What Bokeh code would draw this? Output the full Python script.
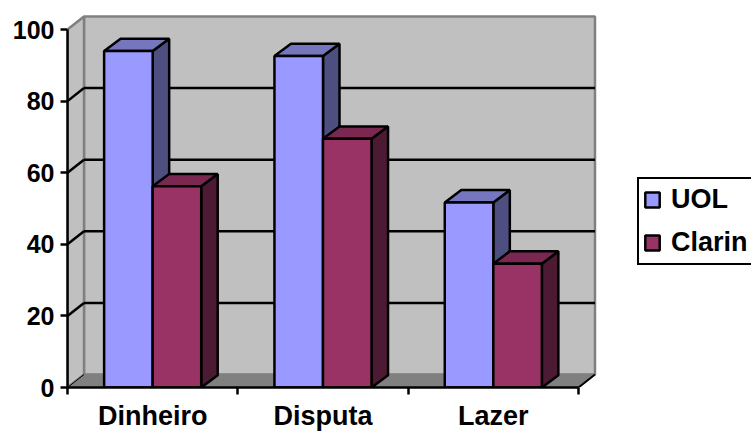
from bokeh.plotting import figure
from bokeh.models import (Range1d, LinearAxis, FixedTicker, Legend, LegendItem,
                          ColumnDataSource)
from bokeh.embed import file_html
from bokeh.resources import INLINE

categories = ["Dinheiro", "Disputa", "Lazer"]
uol = [94, 92.6, 51.7]
clarin = [56.2, 69.5, 34.6]
y_ticks = [0, 20, 40, 60, 80, 100]

FONT = "Liberation Sans"
W, H = 751, 431
L, T, FRAME_H = 67, 0, 387
FRAME_W = W - L
PX_PER_CAT = 170.33
PX_PER_VAL = 3.58
DX = 16.5 / PX_PER_CAT
DY = 13 / PX_PER_VAL
BAR_DY = 12.3 / PX_PER_VAL
BAR = 0.285
N = len(categories)
LW = 2.5

p = figure(width=W, height=H, frame_width=FRAME_W, frame_height=FRAME_H,
           output_backend="svg", toolbar_location=None,
           x_range=Range1d(0, FRAME_W / PX_PER_CAT),
           y_range=Range1d(0, FRAME_H / PX_PER_VAL),
           x_axis_type=None, y_axis_type=None,
           min_border_left=L, min_border_right=0, min_border_top=T, min_border_bottom=0)
p.outline_line_color = None
p.grid.visible = False
p.background_fill_color = "white"

top_val = max(y_ticks)
WALL = "#C0C0C0"
EDGE = "#808080"

# back wall, side wall, floor
p.quad(left=[DX], right=[N + DX], bottom=[DY], top=[top_val + DY],
       fill_color=WALL, line_color=EDGE, line_width=2.5)
p.patch([0, DX, DX, 0], [0, DY, top_val + DY, top_val],
        fill_color=WALL, line_color=EDGE, line_width=2.5)
p.patch([0, N, N + DX, DX], [0, 0, DY, DY],
        fill_color=EDGE, line_color=EDGE, line_width=1.5)

# gridlines: back wall + diagonal along the side wall
inner = [t for t in y_ticks if 0 < t < top_val]
p.multi_line([[DX, N + DX] for _ in inner], [[t + DY, t + DY] for t in inner],
             line_color="black", line_width=LW)
p.multi_line([[0, DX] for _ in inner], [[t, t + DY] for t in inner],
             line_color="black", line_width=LW)
p.line([N, N + DX], [0, DY], line_color="black", line_width=2)
p.line([0, DX], [0, DY], line_color="black", line_width=1)


def bars(values, offset, front, top, side):
    lefts = [i + 0.5 + offset for i in range(N)]
    rights = [x + BAR for x in lefts]
    src = ColumnDataSource(dict(left=lefts, right=rights, top=values, bottom=[0] * N))
    p.patches([[r, r + DX, r + DX, r] for r in rights],
              [[0, BAR_DY, v + BAR_DY, v] for v in values],
              fill_color=side, line_color="black", line_width=LW)
    p.patches([[l, l + DX, r + DX, r] for l, r in zip(lefts, rights)],
              [[v, v + BAR_DY, v + BAR_DY, v] for v in values],
              fill_color=top, line_color="black", line_width=LW)
    return p.quad(left="left", right="right", top="top", bottom="bottom", source=src,
                  fill_color=front, line_color="black", line_width=LW)


r_uol = bars(uol, -BAR, "#9999FF", "#7676BF", "#4E4E80")
r_cla = bars(clarin, 0, "#993366", "#7A2851", "#4D1A33")

yaxis = LinearAxis(ticker=FixedTicker(ticks=y_ticks), bounds=(0, top_val))
yaxis.axis_line_color = "black"
yaxis.axis_line_width = LW
yaxis.major_tick_line_color = "black"
yaxis.major_tick_line_width = LW
yaxis.major_tick_in = 0
yaxis.major_tick_out = 7
yaxis.minor_tick_line_color = None
yaxis.major_label_standoff = 6
yaxis.major_label_text_font = FONT
yaxis.major_label_text_font_style = "bold"
yaxis.major_label_text_font_size = "25px"
yaxis.major_label_text_color = "black"
p.add_layout(yaxis, "left")

centres = [i + 0.5 for i in range(N)]
xaxis = LinearAxis(
    ticker=FixedTicker(ticks=centres, minor_ticks=list(range(N + 1))),
    major_label_overrides={c: n for c, n in zip(centres, categories)},
    bounds=(0, N))
xaxis.axis_line_color = "black"
xaxis.axis_line_width = LW
xaxis.major_tick_line_color = None
xaxis.major_tick_in = 0
xaxis.major_tick_out = 0
xaxis.minor_tick_line_color = "black"
xaxis.minor_tick_line_width = LW
xaxis.minor_tick_in = 0
xaxis.minor_tick_out = 7
xaxis.major_label_standoff = 6
xaxis.major_label_text_font = FONT
xaxis.major_label_text_font_style = "bold"
xaxis.major_label_text_font_size = "27px"
xaxis.major_label_text_color = "black"
p.add_layout(xaxis, "below")

legend = Legend(items=[LegendItem(label="UOL", renderers=[r_uol]),
                       LegendItem(label="Clarin", renderers=[r_cla])],
                location=(570, 122), orientation="vertical")
legend.border_line_color = "black"
legend.border_line_alpha = 1
legend.border_line_width = LW
legend.background_fill_color = "white"
legend.background_fill_alpha = 1
legend.glyph_width = 18
legend.glyph_height = 19
legend.label_standoff = 10
legend.label_text_font = FONT
legend.label_text_font_style = "bold"
legend.label_text_font_size = "27px"
legend.label_text_color = "black"
legend.spacing = 12
legend.margin = 0
legend.padding = (4, 5)
p.add_layout(legend, "center")

open("out.html", "w").write(file_html(p, INLINE))
